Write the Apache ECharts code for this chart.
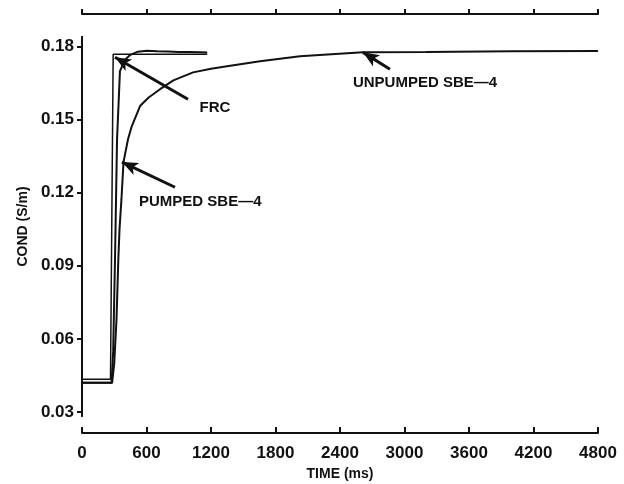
<!DOCTYPE html>
<html>
<head>
<meta charset="utf-8">
<script src="https://cdn.jsdelivr.net/npm/echarts@6/dist/echarts.min.js"></script>
<style>html,body{margin:0;padding:0;background:#fff}#c{width:624px;height:484px}</style>
</head>
<body>
<div id="c"></div>
<script>
// ---- data ----
const xTicks = [0, 600, 1200, 1800, 2400, 3000, 3600, 4200, 4800];
const yTicks = [0.03, 0.06, 0.09, 0.12, 0.15, 0.18];

const frcTime = [0, 265, 290, 1165];
const frcCond = [0.0435, 0.0435, 0.1767, 0.1767];

const pumpedTime = [0, 275, 290, 307, 326, 353, 400, 450, 520, 600, 700, 800, 900, 1000, 1100, 1165];
const pumpedCond = [0.042, 0.042, 0.055, 0.0927, 0.1419, 0.1698, 0.1745, 0.1765, 0.1778, 0.1782, 0.1780, 0.1779, 0.1777, 0.1776, 0.1775, 0.1774];

const unpumpedTime = [0, 280, 300, 321, 338, 349, 367, 386, 428, 460, 540, 620, 726, 850, 1033, 1200, 1349, 1656, 2028, 2614, 3200, 4000, 4800];
const unpumpedCond = [0.042, 0.042, 0.050, 0.0681, 0.0927, 0.105, 0.1173, 0.1325, 0.1419, 0.1468, 0.1555, 0.159, 0.1624, 0.166, 0.1693, 0.1708, 0.1718, 0.1739, 0.1759, 0.1775, 0.1777, 0.1780, 0.1781];

const annoText = ['FRC', 'PUMPED SBE\u20144', 'UNPUMPED SBE\u20144'];
const annoHead = [[307, 0.1755], [372, 0.1325], [2614, 0.1775]];
const annoTail = [[986, 0.1583], [865, 0.1222], [2865, 0.1706]];
const annoLabel = [[1237, 0.1548], [1100, 0.1160], [3191, 0.1652]];

// ---- chart ----
const zip = (a, b) => a.map((v, i) => [v, b[i]]);
const FONT = 'Liberation Sans';
const ink = '#111';
const chart = echarts.init(document.getElementById('c'), null, {renderer: 'canvas'});

const lineBase = {type: 'line', showSymbol: false, symbol: 'none', animation: false, xAxisIndex: 0, yAxisIndex: 0};

const markLineData = annoHead.map((h, i) => [
  {coord: annoTail[i], symbol: 'none'},
  {coord: h, symbol: 'arrow', symbolSize: [10, 16]}
]);
const markPointData = annoLabel.map((p, i) => ({coord: p, value: annoText[i]}));

chart.setOption({
  backgroundColor: '#fff',
  animation: false,
  grid: {left: 82, right: 26, top: 37, bottom: 68, containLabel: false, outerBoundsMode: 'none'},
  xAxis: [{
    type: 'value', min: 0, max: 4800, interval: 600, position: 'bottom', offset: 17,
    axisLine: {show: true, lineStyle: {color: ink, width: 2}},
    axisTick: {show: true, inside: true, length: 6, lineStyle: {color: ink, width: 2}},
    axisLabel: {margin: 12, color: ink, fontFamily: FONT, fontWeight: 'bold', fontSize: 17,
      customValues: xTicks, formatter: v => String(v)},
    splitLine: {show: false},
    name: 'TIME (ms)', nameLocation: 'middle', nameGap: 32,
    nameTextStyle: {color: ink, fontFamily: FONT, fontWeight: 'bold', fontSize: 14}
  }, {
    type: 'value', min: 0, max: 4800, interval: 600, position: 'top', offset: 23,
    axisLine: {show: true, lineStyle: {color: ink, width: 2}},
    axisTick: {show: true, inside: false, length: 5, lineStyle: {color: ink, width: 2}},
    axisLabel: {show: false},
    splitLine: {show: false}
  }],
  yAxis: [{
    type: 'value', min: 0.0284, max: 0.1838, position: 'left',
    axisLine: {show: true, lineStyle: {color: ink, width: 2}},
    axisTick: {show: true, inside: false, length: 5, customValues: yTicks, lineStyle: {color: ink, width: 2}},
    axisLabel: {margin: 8, color: ink, fontFamily: FONT, fontWeight: 'bold', fontSize: 17,
      customValues: yTicks, formatter: v => v.toFixed(2)},
    splitLine: {show: false},
    name: 'COND (S/m)', nameLocation: 'middle', nameGap: 52, nameRotate: 90,
    nameTextStyle: {color: ink, fontFamily: FONT, fontWeight: 'bold', fontSize: 14}
  }, {
    type: 'value', min: 0.0284, max: 0.1838, position: 'right',
    axisLine: {show: true, lineStyle: {color: ink, width: 2}},
    axisTick: {show: true, inside: true, length: 4, customValues: yTicks, lineStyle: {color: ink, width: 2}},
    axisLabel: {show: false},
    splitLine: {show: false}
  }],
  series: [
    Object.assign({}, lineBase, {
      name: 'FRC', data: zip(frcTime, frcCond),
      lineStyle: {color: ink, width: 1.5},
      markLine: {silent: true, animation: false, symbol: ['none', 'arrow'],
        lineStyle: {color: ink, width: 3, type: 'solid'}, label: {show: false},
        data: markLineData},
      markPoint: {silent: true, animation: false, symbol: 'circle', symbolSize: 0,
        label: {show: true, position: 'inside', color: ink, fontFamily: FONT, fontWeight: 'bold', fontSize: 15,
          formatter: p => p.value},
        data: markPointData}
    }),
    Object.assign({}, lineBase, {
      name: 'PUMPED', data: zip(pumpedTime, pumpedCond),
      lineStyle: {color: ink, width: 2}
    }),
    Object.assign({}, lineBase, {
      name: 'UNPUMPED', data: zip(unpumpedTime, unpumpedCond),
      lineStyle: {color: ink, width: 2}
    })
  ]
});
</script>
</body>
</html>
